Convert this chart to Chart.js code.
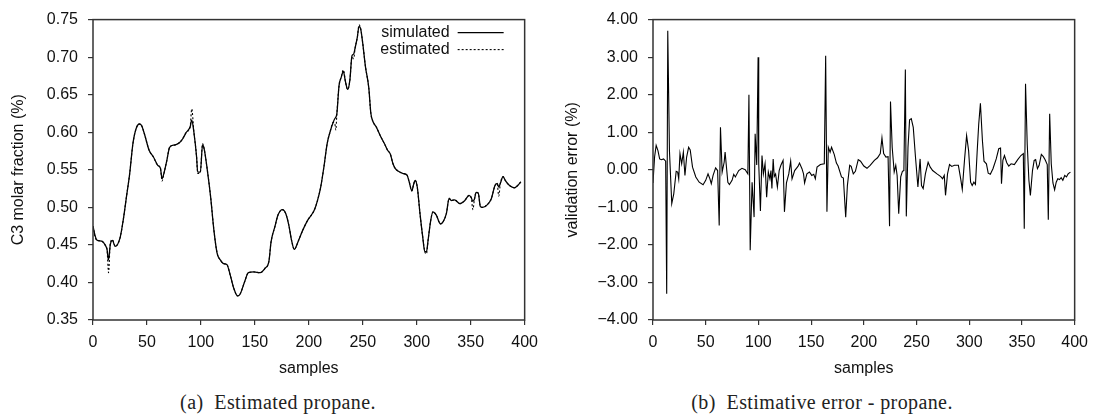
<!DOCTYPE html>
<html>
<head>
<meta charset="utf-8">
<script src="https://cdn.jsdelivr.net/npm/chart.js@4.4.1/dist/chart.umd.min.js"></script>
<style>
  body { margin: 0; background: #fff; width: 1096px; height: 415px; position: relative; overflow: hidden; }
  canvas { position: absolute; top: 0; }
  #propaneChart { left: 0; }
  #errorChart { left: 546px; }
  .caption { position: absolute; top: 391px; font: 20px "Liberation Serif", "Times New Roman", serif; line-height: 22px;
             letter-spacing: 0.4px; color: #222; white-space: pre; transform: translateX(-50%); }
</style>
</head>
<body>
<canvas id="propaneChart" width="546" height="390"></canvas>
<canvas id="errorChart" width="550" height="390"></canvas>
<div class="caption" style="left:278px">(a)  Estimated propane.</div>
<div class="caption" style="left:822px">(b)  Estimative error - propane.</div>
<script>
// (a) propane: sample index, simulated and estimated molar fraction
const propaneSamples = [
  0, 2, 4, 8, 12, 13, 14.4, 16, 18, 20.5,
  25, 28, 31, 34, 37, 40, 43, 45, 48, 52,
  56, 60, 62.5, 64, 66, 68.5, 71, 75.5, 80, 83,
  86.5, 90, 91.5, 93.5, 96, 97, 99.5, 101.5, 103, 106,
  109, 112, 115, 118, 121, 124, 127.5, 130.5, 134, 136.5,
  140.5, 144, 149, 155, 159.5, 163, 165, 168.5, 171.5, 175.5,
  178.5, 181.5, 184, 186.5, 190.5, 194.5, 199, 205, 208, 211,
  214, 217, 220, 222.5, 224, 225, 226, 228, 230, 232,
  234, 236, 238, 240, 241.5, 243, 245, 246.5, 248, 250,
  252.5, 255.5, 257.5, 259.5, 262.5, 266, 270, 273, 275.5, 278,
  280, 283, 287.5, 291, 293, 295.5, 297, 298.5, 300.5, 303,
  305.5, 307.5, 309, 310.5, 313, 315, 318, 322, 324.5, 327.5,
  330, 332, 335, 340, 344.5, 348.5, 350.5, 352, 353.5, 355,
  357, 359, 361, 365, 369, 372.5, 374.5, 376, 377.5, 380,
  382, 386, 390.5, 393.5, 396.5
];
const simulatedValues = [
  0.475, 0.462, 0.456, 0.455, 0.448, 0.444, 0.430, 0.450, 0.456, 0.448,
  0.459, 0.483, 0.514, 0.545, 0.585, 0.605, 0.611, 0.609, 0.596, 0.576,
  0.567, 0.556, 0.552, 0.538, 0.547, 0.563, 0.580, 0.583, 0.586, 0.591,
  0.600, 0.607, 0.616, 0.600, 0.567, 0.547, 0.547, 0.583, 0.578, 0.549,
  0.514, 0.470, 0.439, 0.430, 0.425, 0.424, 0.408, 0.392, 0.382, 0.385,
  0.401, 0.413, 0.414, 0.413, 0.419, 0.428, 0.454, 0.474, 0.490, 0.497,
  0.492, 0.476, 0.456, 0.444, 0.456, 0.470, 0.483, 0.496, 0.509, 0.527,
  0.554, 0.585, 0.602, 0.613, 0.618, 0.620, 0.625, 0.662, 0.673, 0.681,
  0.667, 0.657, 0.669, 0.702, 0.704, 0.713, 0.727, 0.741, 0.738, 0.718,
  0.687, 0.660, 0.625, 0.614, 0.607, 0.596, 0.585, 0.576, 0.571, 0.558,
  0.552, 0.548, 0.545, 0.543, 0.534, 0.522, 0.530, 0.536, 0.527, 0.492,
  0.461, 0.441, 0.441, 0.456, 0.483, 0.494, 0.490, 0.478, 0.481, 0.492,
  0.512, 0.509, 0.510, 0.505, 0.509, 0.516, 0.513, 0.508, 0.511, 0.520,
  0.519, 0.501, 0.500, 0.503, 0.511, 0.529, 0.532, 0.527, 0.532, 0.541,
  0.536, 0.529, 0.526, 0.529, 0.534
];
const estimatedValues = [
  0.475, 0.460, 0.456, 0.455, 0.448, 0.444, 0.413, 0.452, 0.457, 0.448,
  0.459, 0.483, 0.514, 0.545, 0.585, 0.605, 0.611, 0.609, 0.596, 0.576,
  0.567, 0.556, 0.552, 0.535, 0.547, 0.563, 0.580, 0.583, 0.586, 0.591,
  0.600, 0.607, 0.631, 0.600, 0.567, 0.545, 0.547, 0.585, 0.578, 0.549,
  0.514, 0.470, 0.439, 0.430, 0.425, 0.424, 0.408, 0.392, 0.382, 0.385,
  0.401, 0.413, 0.414, 0.413, 0.419, 0.428, 0.454, 0.474, 0.490, 0.497,
  0.492, 0.476, 0.456, 0.444, 0.456, 0.470, 0.483, 0.496, 0.509, 0.527,
  0.554, 0.585, 0.602, 0.613, 0.612, 0.603, 0.625, 0.662, 0.673, 0.683,
  0.667, 0.657, 0.669, 0.700, 0.698, 0.713, 0.727, 0.743, 0.738, 0.718,
  0.687, 0.660, 0.625, 0.614, 0.607, 0.596, 0.585, 0.576, 0.571, 0.558,
  0.552, 0.548, 0.545, 0.543, 0.534, 0.522, 0.530, 0.536, 0.527, 0.492,
  0.461, 0.441, 0.438, 0.456, 0.483, 0.494, 0.490, 0.478, 0.481, 0.492,
  0.512, 0.509, 0.510, 0.505, 0.509, 0.516, 0.513, 0.497, 0.511, 0.520,
  0.519, 0.501, 0.500, 0.503, 0.511, 0.529, 0.532, 0.515, 0.532, 0.541,
  0.536, 0.529, 0.526, 0.529, 0.534
];

// (b) validation error (%)
const errorSamples = [
  0, 1.5, 3, 4.7, 6.3, 8, 10, 12, 13, 14,
  15.6, 17.8, 19.7, 22, 23.4, 24.4, 25.6, 27.2, 28.8, 30.3,
  31.9, 33.8, 35.3, 37.5, 40.6, 43.8, 47.5, 50, 52.2, 54,
  55.3, 57, 59.4, 61.3, 62.8, 64, 65.6, 67.5, 68.4, 69.4,
  71, 72.5, 75, 76.6, 78.1, 81.3, 84.4, 87.5, 90, 91,
  92.2, 94, 95.9, 96.9, 98.4, 99.7, 100.3, 101.9, 103.4, 104.7,
  106.3, 107.8, 109.4, 110.9, 111.9, 112.8, 114, 115, 116.3, 118,
  119.7, 121.3, 123.4, 124.7, 126.6, 128.8, 130.6, 131.9, 134.4, 137.5,
  139, 141.3, 142.8, 143.8, 146, 148.4, 150.6, 152.5, 154, 155.6,
  158.8, 162.5, 163.8, 165, 166.3, 168, 169.4, 171.9, 174, 175.6,
  178.8, 180.6, 182.8, 184.4, 186.6, 188, 190, 192, 194.7, 196.9,
  200, 203, 206, 210, 213, 215.6, 217.2, 218.8, 221, 223,
  224.4, 225.3, 226.9, 228.8, 230.3, 231.6, 233.1, 235, 236.6, 238,
  239.4, 240.3, 241.9, 243.4, 245, 246.9, 249, 251.3, 252.5, 253.4,
  254.7, 256.3, 258.4, 261, 263, 265.3, 269.4, 273, 274.7, 276.3,
  277.5, 279.4, 281.3, 283.4, 286, 289.7, 291.9, 293.4, 295.6, 297.5,
  299.4, 301.3, 302.8, 304.4, 305.9, 307.5, 309, 310.6, 312.5, 314,
  316.3, 318, 320, 322.5, 325.6, 328, 329.7, 330.6, 331.9, 333.4,
  335.6, 337.5, 339.7, 342.8, 346, 349, 351.3, 352.2, 353.4, 355,
  356.6, 358, 360, 361.6, 363, 364.7, 366.3, 368.4, 370.3, 372,
  374, 375, 376.3, 377.8, 379.4, 381, 382.5, 384, 385.6, 387.2,
  388.8, 390.6, 392.2, 393.8, 396
];
const errorValues = [
  -0.35, 0.34, 0.65, 0.51, 0.29, 0.27, 0.29, 0.23, -3.30, 3.70,
  0.51, -0.90, -0.64, -0.04, -0.06, -0.24, 0.43, 0.16, 0.47, -0.15,
  0.34, 0.60, 0.53, 0.07, -0.19, -0.33, -0.40, -0.28, -0.11, -0.24,
  -0.37, -0.15, 0.05, -0.02, -1.48, 1.13, -0.06, 0.20, 0.47, 0.16,
  -0.33, -0.39, -0.28, -0.12, -0.19, -0.02, 0.04, 0.00, -0.11, 2.00,
  -2.14, -0.33, -1.26, 0.96, 0.13, 3.00, 0.16, -1.10, 0.38, -0.11,
  0.16, -0.73, -0.06, -0.24, -0.02, -0.50, 0.29, -0.18, -0.11, -0.46,
  -0.02, 0.12, 0.25, -1.12, -0.35, -0.11, 0.23, -0.24, -0.02, 0.09,
  0.18, 0.03, -0.11, -0.35, -0.11, -0.06, -0.15, -0.12, -0.24, 0.07,
  0.14, 0.16, 3.04, -1.12, 0.60, 0.47, 0.60, 0.41, 0.18, 0.10,
  -0.19, -0.22, -1.26, -0.42, 0.12, 0.09, -0.11, -0.04, 0.27, 0.23,
  0.10, 0.04, 0.12, 0.25, 0.32, 0.43, 0.85, 0.43, 0.34, 0.35,
  -1.50, 1.82, 0.60, -0.06, 0.12, -0.15, -1.17, -0.19, -0.04, -0.02,
  2.67, -1.24, 0.60, 1.33, 1.36, 1.13, 0.34, -0.46, -0.02, 0.29,
  -0.42, -0.50, -0.11, 0.20, 0.07, -0.02, -0.11, -0.18, -0.24, -0.15,
  -0.68, -0.11, 0.14, 0.09, 0.12, 0.12, -0.24, -0.52, 0.29, 0.91,
  0.51, -0.33, -0.42, -0.33, -0.39, 0.47, 1.22, 1.77, 0.78, 0.23,
  0.16, -0.09, -0.12, 0.03, 0.29, 0.56, 0.58, -0.37, 0.25, 0.38,
  0.19, 0.10, 0.16, 0.14, 0.27, 0.38, 0.43, -1.57, 2.29, 0.69,
  -0.28, -0.68, -0.02, 0.25, 0.27, 0.03, 0.12, 0.41, 0.35, 0.27,
  0.14, -1.33, 1.49, 0.16, -0.35, -0.53, -0.33, -0.24, -0.26, -0.21,
  -0.28, -0.15, -0.19, -0.11, -0.06
];

const sansFont = '"Liberation Sans", Arial, sans-serif';
Chart.defaults.font.family = sansFont;
Chart.defaults.font.size = 16;
Chart.defaults.color = '#111';

function toPoints(xs, ys) {
  return xs.map((x, i) => ({ x: x, y: ys[i] }));
}

// box around the plot area
const framePlugin = {
  id: 'frame',
  afterDraw(chart) {
    const { ctx, chartArea: a } = chart;
    ctx.save();
    ctx.strokeStyle = '#333';
    ctx.lineWidth = 1.5;
    ctx.strokeRect(a.left, a.top, a.right - a.left, a.bottom - a.top);
    ctx.restore();
  }
};

// legend with text on the left and line sample on the right
const lineLegend = {
  id: 'lineLegend',
  afterDraw(chart) {
    const { ctx, chartArea: a } = chart;
    ctx.save();
    ctx.font = '16px ' + sansFont;
    ctx.textAlign = 'right';
    ctx.textBaseline = 'middle';
    chart.data.datasets.forEach((ds, i) => {
      const y = a.top + 13 + i * 17;
      const x = a.right - 75;
      ctx.fillStyle = '#111';
      ctx.fillText(ds.label, x, y);
      ctx.strokeStyle = ds.borderColor;
      ctx.lineWidth = 1.1;
      ctx.setLineDash(ds.borderDash || []);
      ctx.beginPath();
      ctx.moveTo(x + 8, y);
      ctx.lineTo(x + 54, y);
      ctx.stroke();
    });
    ctx.restore();
  }
};

function axisGrid() {
  return { drawOnChartArea: false, tickLength: 5, color: '#333', lineWidth: 1.2 };
}

function xAxis() {
  return {
    type: 'linear', min: 0, max: 400,
    ticks: { stepSize: 50, padding: 8, maxRotation: 0 },
    grid: axisGrid(),
    border: { display: false },
    title: { display: true, text: 'samples', padding: { top: 0, bottom: 12 } },
    afterFit: s => { s.height = 70; }
  };
}

const propaneCtx = document.getElementById('propaneChart').getContext('2d');
const propaneChart = new Chart(propaneCtx, {
  type: 'line',
  data: {
    datasets: [{
      label: 'simulated',
      data: toPoints(propaneSamples, simulatedValues),
      borderColor: '#000',
      borderWidth: 1.3,
      pointRadius: 0,
      cubicInterpolationMode: 'monotone'
    }, {
      label: 'estimated',
      data: toPoints(propaneSamples, estimatedValues),
      borderColor: '#000',
      borderWidth: 1.1,
      borderDash: [2, 2],
      pointRadius: 0,
      cubicInterpolationMode: 'monotone'
    }]
  },
  options: {
    responsive: false,
    animation: false,
    layout: { padding: { top: 19, right: 17, left: 0, bottom: 0 } },
    plugins: { legend: { display: false }, tooltip: { enabled: false } },
    scales: {
      x: xAxis(),
      y: {
        min: 0.35, max: 0.75,
        ticks: { stepSize: 0.05, padding: 10, callback: v => v.toFixed(2) },
        grid: axisGrid(),
        border: { display: false },
        title: { display: true, text: 'C3 molar fraction (%)', padding: { top: 9, bottom: 0 } },
        afterFit: s => { s.width = 93; }
      }
    }
  },
  plugins: [framePlugin, lineLegend]
});

const errorCtx = document.getElementById('errorChart').getContext('2d');
const errorChart = new Chart(errorCtx, {
  type: 'line',
  data: {
    datasets: [{
      label: 'validation error',
      data: toPoints(errorSamples, errorValues),
      borderColor: '#000',
      borderWidth: 1.1,
      pointRadius: 0,
      tension: 0
    }]
  },
  options: {
    responsive: false,
    animation: false,
    layout: { padding: { top: 19, right: 17, left: 0, bottom: 0 } },
    plugins: { legend: { display: false }, tooltip: { enabled: false } },
    scales: {
      x: xAxis(),
      y: {
        min: -4, max: 4,
        ticks: {
          stepSize: 1, padding: 10,
          callback: v => (v < 0 ? '\u2212' : '') + Math.abs(v).toFixed(2)
        },
        grid: axisGrid(),
        border: { display: false },
        title: { display: true, text: 'validation error (%)', padding: { top: 17, bottom: 0 } },
        afterFit: s => { s.width = 107; }
      }
    }
  },
  plugins: [framePlugin]
});
</script>
</body>
</html>
